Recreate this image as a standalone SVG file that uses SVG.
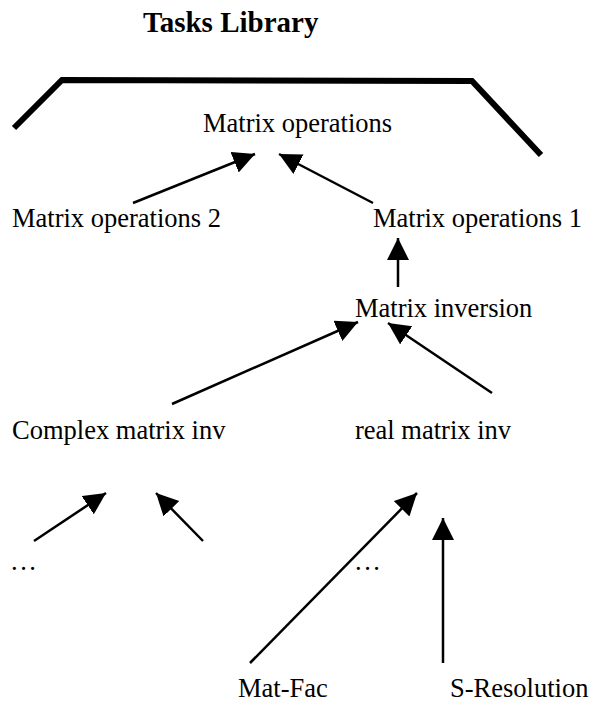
<svg xmlns="http://www.w3.org/2000/svg" width="591" height="704" viewBox="0 0 591 704">
<style>
text { font-family: "Liberation Serif", "Times New Roman", serif; font-size: 26.5px; fill: #000; }
.title { font-weight: bold; font-size: 29px; }
.dots { letter-spacing: 2.5px; }
.conn line { stroke: #000; stroke-width: 2.5; marker-end: url(#ah); }
.bracket { fill: none; stroke: #000; stroke-width: 6; stroke-linejoin: miter; }
</style>
<defs>
<marker id="ah" markerUnits="userSpaceOnUse" markerWidth="24" markerHeight="24" refX="22" refY="11" orient="auto" viewBox="0 0 24 24">
<path d="M0,0 L22,11 L0,22 z" fill="#000"/>
</marker>
</defs>
<rect width="591" height="704" fill="#fff"/>
<g id="title"><text class="title" x="143" y="32">Tasks Library</text></g>
<g id="library-bracket"><path class="bracket" d="M14,128 L62,80 L472,81 L541,155"/></g>
<g id="matrix-operations"><text x="203" y="132">Matrix operations</text></g>
<g id="matrix-operations-2"><text x="12" y="227">Matrix operations 2</text></g>
<g id="matrix-operations-1"><text x="373" y="227">Matrix operations 1</text></g>
<g id="matrix-inversion"><text x="355" y="317">Matrix inversion</text></g>
<g id="complex-matrix-inv"><text x="12" y="439">Complex matrix inv</text></g>
<g id="real-matrix-inv"><text x="355" y="439">real matrix inv</text></g>
<g id="ellipsis-left"><text class="dots" x="11" y="570">...</text></g>
<g id="ellipsis-right"><text class="dots" x="355" y="570">...</text></g>
<g id="mat-fac"><text x="238" y="697">Mat-Fac</text></g>
<g id="s-resolution"><text x="450" y="697">S-Resolution</text></g>
<g id="connectors" class="conn">
<line x1="133" y1="203" x2="255" y2="154"/>
<line x1="373" y1="203" x2="279" y2="154"/>
<line x1="398" y1="287" x2="398" y2="238"/>
<line x1="172" y1="404" x2="358" y2="322"/>
<line x1="492" y1="393" x2="388" y2="323"/>
<line x1="34" y1="541" x2="106" y2="493"/>
<line x1="203" y1="541" x2="156" y2="493"/>
<line x1="250" y1="663" x2="417" y2="493"/>
<line x1="443" y1="663" x2="443" y2="518"/>
</g>
</svg>
